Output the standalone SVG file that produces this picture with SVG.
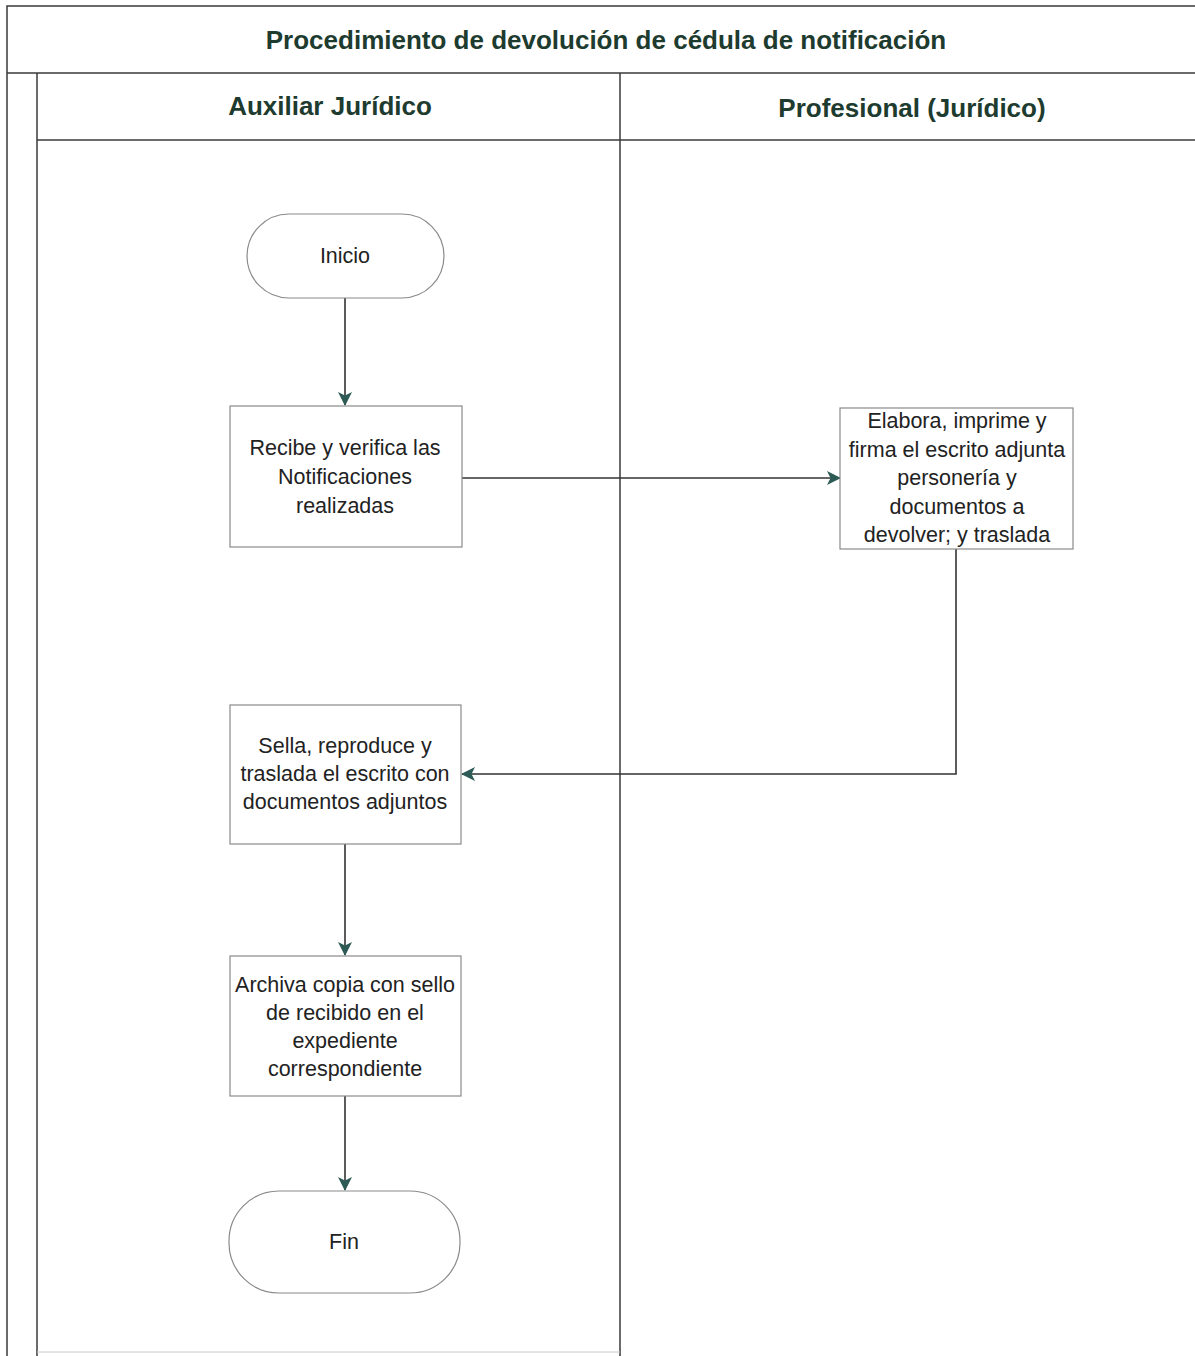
<svg xmlns="http://www.w3.org/2000/svg" width="1195" height="1356" viewBox="0 0 1195 1356">
  <defs>
    <style>
      .frame { fill: none; stroke: #3a3a3a; stroke-width: 1.5; }
      .head { font-family: "Liberation Sans", Arial, sans-serif; font-weight: bold; font-size: 26px; fill: #1d3b2e; text-anchor: middle; }
      .node rect { fill: #ffffff; stroke: #8a8a8a; stroke-width: 1.2; }
      .node text { font-family: "Liberation Sans", Arial, sans-serif; font-size: 21.5px; fill: #222222; text-anchor: middle; }
      .edge { fill: none; stroke: #333333; stroke-width: 1.6; }
    </style>
    <marker id="arrow" viewBox="0 0 14 14" refX="13" refY="7" markerWidth="14" markerHeight="14" markerUnits="userSpaceOnUse" orient="auto">
      <path d="M0,0 L14,7 L0,14 L3.5,7 Z" fill="#2d5a55"/>
    </marker>
  </defs>

  <rect width="1195" height="1356" fill="#ffffff"/>

  <!-- swimlane frame -->
  <g id="pool">
    <path class="frame" d="M7,1356 V6 H1195"/>
    <path class="frame" d="M7,73 H1195"/>
    <path class="frame" d="M37,73 V1356"/>
    <path class="frame" d="M620,73 V1356"/>
    <path class="frame" d="M37,140 H1195"/>
    <path d="M37,1352 H620" stroke="#c8c8c8" stroke-width="1"/>
    <text class="head" x="606" y="49">Procedimiento de devolución de cédula de notificación</text>
    <text class="head" x="330" y="115">Auxiliar Jurídico</text>
    <text class="head" x="912" y="117">Profesional (Jurídico)</text>
  </g>

  <!-- connectors -->
  <g id="connectors">
    <path class="edge" d="M345,298 V405" marker-end="url(#arrow)"/>
    <path class="edge" d="M462,478 H840" marker-end="url(#arrow)"/>
    <path class="edge" d="M956,549 V774 H462" marker-end="url(#arrow)"/>
    <path class="edge" d="M345,844 V955" marker-end="url(#arrow)"/>
    <path class="edge" d="M345,1096 V1190" marker-end="url(#arrow)"/>
  </g>

  <g id="inicio" class="node">
    <rect x="247" y="214" width="197" height="84" rx="42" ry="42"/>
    <text x="345" y="263">Inicio</text>
  </g>

  <g id="recibe" class="node">
    <rect x="230" y="406" width="232" height="141"/>
    <text x="345" y="455">Recibe y verifica las</text>
    <text x="345" y="484">Notificaciones</text>
    <text x="345" y="513">realizadas</text>
  </g>

  <g id="elabora" class="node">
    <rect x="840" y="408" width="233" height="141"/>
    <text x="957" y="428">Elabora, imprime y</text>
    <text x="957" y="457">firma el escrito adjunta</text>
    <text x="957" y="485">personería y</text>
    <text x="957" y="514">documentos a</text>
    <text x="957" y="542">devolver; y traslada</text>
  </g>

  <g id="sella" class="node">
    <rect x="230" y="705" width="231" height="139"/>
    <text x="345" y="753">Sella, reproduce y</text>
    <text x="345" y="781">traslada el escrito con</text>
    <text x="345" y="809">documentos adjuntos</text>
  </g>

  <g id="archiva" class="node">
    <rect x="230" y="956" width="231" height="140"/>
    <text x="345" y="992">Archiva copia con sello</text>
    <text x="345" y="1020">de recibido en el</text>
    <text x="345" y="1048">expediente</text>
    <text x="345" y="1076">correspondiente</text>
  </g>

  <g id="fin" class="node">
    <rect x="229" y="1191" width="231" height="102" rx="50" ry="50"/>
    <text x="344" y="1249">Fin</text>
  </g>
</svg>
